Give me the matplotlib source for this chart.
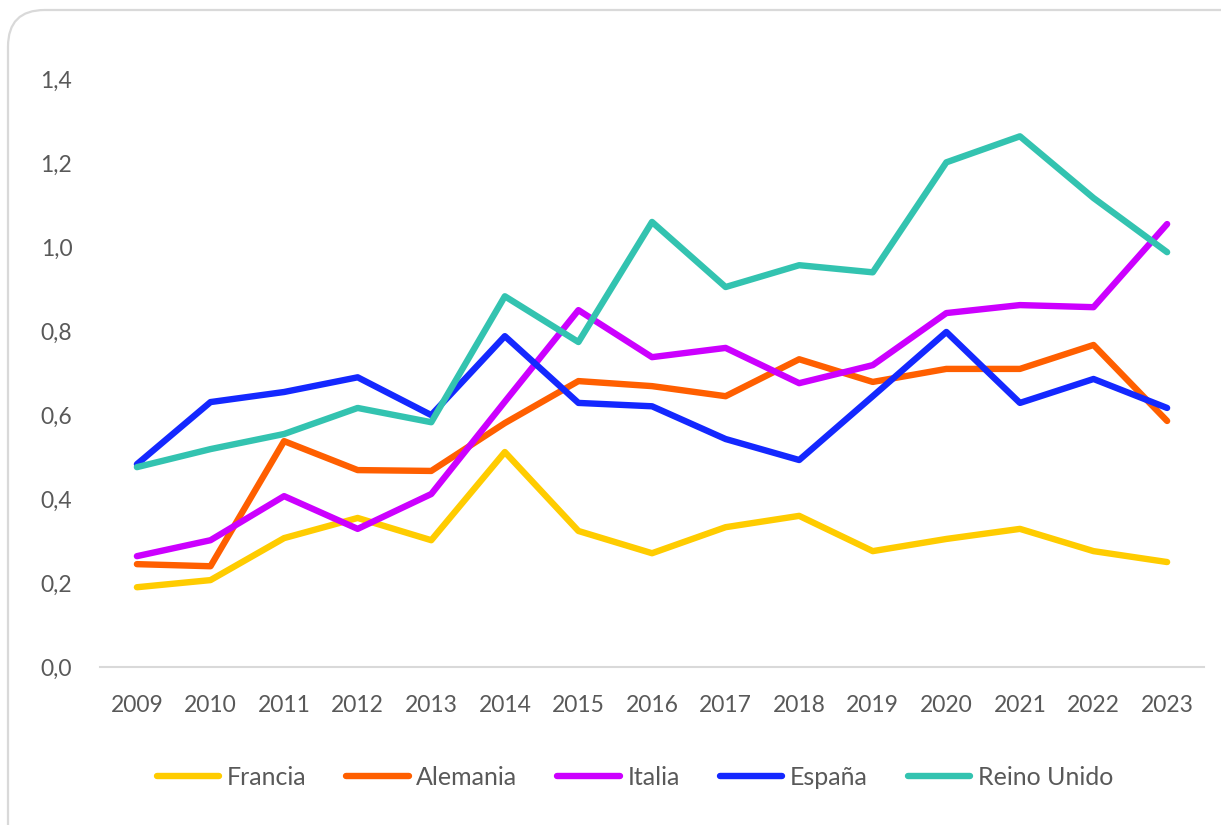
import matplotlib
matplotlib.use("Agg")
import matplotlib.pyplot as plt
from matplotlib.patches import FancyBboxPatch

plt.rcParams['font.family'] = ['Lato', 'DejaVu Sans']

years = [2009, 2010, 2011, 2012, 2013, 2014, 2015, 2016, 2017, 2018, 2019, 2020, 2021, 2022, 2023]

francia = [0.19, 0.207, 0.307, 0.355, 0.302, 0.512, 0.324, 0.271, 0.333, 0.36, 0.276, 0.305, 0.329, 0.276, 0.25]
alemania = [0.245, 0.24, 0.538, 0.469, 0.467, 0.581, 0.681, 0.669, 0.645, 0.733, 0.679, 0.71, 0.71, 0.767, 0.586]
italia = [0.264, 0.302, 0.407, 0.329, 0.412, 0.632, 0.85, 0.738, 0.76, 0.676, 0.719, 0.843, 0.862, 0.857, 1.055]
espana = [0.483, 0.631, 0.655, 0.69, 0.6, 0.788, 0.629, 0.621, 0.543, 0.493, 0.645, 0.798, 0.629, 0.686, 0.617]
reino_unido = [0.476, 0.519, 0.555, 0.617, 0.583, 0.883, 0.774, 1.06, 0.905, 0.957, 0.94, 1.202, 1.264, 1.117, 0.988]

series = [
    ("Francia", francia, "#FFCC00"),
    ("Alemania", alemania, "#FF5F00"),
    ("Italia", italia, "#CC00FF"),
    ("España", espana, "#1428FF"),
    ("Reino Unido", reino_unido, "#33C3B0"),
]

fig = plt.figure(figsize=(12.21, 8.25), dpi=100)
ax = fig.add_axes([0.082, 0.1915, 0.904, 0.7125])

for name, vals, col in series:
    ax.plot(years, vals, color=col, lw=4.6, label=name,
            solid_capstyle='round', solid_joinstyle='round')

ax.set_xlim(2008.5, 2023.5)
ax.set_ylim(0, 1.4)
ax.set_xticks(years)
yt = [0, 0.2, 0.4, 0.6, 0.8, 1.0, 1.2, 1.4]
ax.set_yticks(yt)
ax.set_yticklabels([f"{v:.1f}".replace('.', ',') for v in yt])
ax.tick_params(axis='both', length=0, labelsize=16.5, labelcolor='#595959')
ax.tick_params(axis='x', pad=20)
ax.tick_params(axis='y', pad=20)
for s in ['top', 'right', 'left']:
    ax.spines[s].set_visible(False)
ax.spines['bottom'].set_color('#d9d9d9')
ax.spines['bottom'].set_linewidth(1.5)

leg = fig.legend(loc='center', bbox_to_anchor=(0.52, 0.058), ncol=5, frameon=False,
                 fontsize=18, handlelength=2.5, handletextpad=0.3, columnspacing=1.6)
for t in leg.get_texts():
    t.set_color('#595959')

border = FancyBboxPatch((8 / 1221, -0.05), 1.1, 0.05 + 1 - 10 / 825,
                        boxstyle="round,pad=0,rounding_size=0.03",
                        transform=fig.transFigure, fill=False,
                        edgecolor='#d9d9d9', lw=1.6, mutation_aspect=1221 / 825)
fig.patches.append(border)

fig.savefig("out.png", dpi=100)
